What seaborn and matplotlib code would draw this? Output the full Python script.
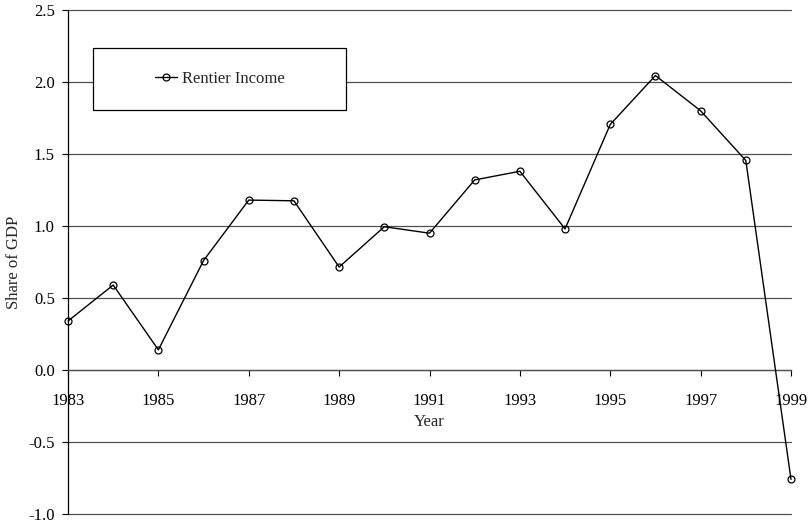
import matplotlib
matplotlib.use("Agg")
import matplotlib.pyplot as plt
from matplotlib.patches import Rectangle
import seaborn as sns
import pandas as pd

# Data
years = list(range(1983, 2000))
rentier_income = [0.34, 0.59, 0.14, 0.76, 1.18, 1.175, 0.715, 0.995, 0.95,
                  1.32, 1.38, 0.98, 1.705, 2.045, 1.80, 1.455, -0.76]
year_ticks = list(range(1983, 2000, 2))
y_ticks = [-1.0, -0.5, 0.0, 0.5, 1.0, 1.5, 2.0, 2.5]

df = pd.DataFrame({"Year": years, "Rentier Income": rentier_income})

sns.set_style("white")
plt.rcParams["font.family"] = ["Liberation Serif", "DejaVu Serif"]
plt.rcParams["font.size"] = 12

fig = plt.figure(figsize=(8.11, 5.27), dpi=100)
ax = fig.add_axes([68 / 811, 13 / 527, 723 / 811, 504 / 527])

sns.lineplot(data=df, x="Year", y="Rentier Income", ax=ax, color="black",
             linewidth=1, marker="o", markersize=5, markerfacecolor="none",
             markeredgecolor="black", markeredgewidth=0.9,
             label="Rentier Income", zorder=3, clip_on=False)

# horizontal gridlines
for v in y_ticks:
    ax.axhline(v, color="#505050", linewidth=0.9, zorder=1, clip_on=False)

ax.set_xlim(1983, 1999)
ax.set_ylim(-1.0, 2.5)
ax.set_yticks(y_ticks)
ax.set_yticklabels([f"{v:.1f}" for v in y_ticks])
ax.set_xticks(year_ticks)
ax.set_xticklabels([str(y) for y in year_ticks])

for s in ["top", "right"]:
    ax.spines[s].set_visible(False)
ax.spines["bottom"].set_position(("data", 0))
ax.spines["bottom"].set_color("#505050")
ax.spines["bottom"].set_linewidth(0.9)
ax.spines["left"].set_color("black")
ax.spines["left"].set_linewidth(0.9)

ax.tick_params(axis="x", direction="out", length=4.5, width=0.8, pad=12,
               bottom=True, colors="black", labelsize=12)
ax.tick_params(axis="y", direction="out", length=4.5, width=0.8, pad=5,
               left=True, colors="black", labelsize=12)

ax.set_xlabel("Year")
ax.xaxis.set_label_coords(0.5, (514 - 414) / 504)
ax.set_ylabel("Share of GDP")
ax.yaxis.set_label_coords(-0.063, 0.5)

# legend box as in the reference
box = Rectangle((0.035, 0.802), 0.35, 0.123, transform=ax.transAxes,
                facecolor="white", edgecolor="black", linewidth=0.9, zorder=4)
ax.add_patch(box)
leg = ax.legend(loc="center", bbox_to_anchor=(0.035, 0.802, 0.35, 0.123),
                frameon=False, handlelength=1.3, handletextpad=0.3,
                borderpad=0, borderaxespad=0, fontsize=12)
leg.set_zorder(5)

fig.savefig("out.png", dpi=100)
